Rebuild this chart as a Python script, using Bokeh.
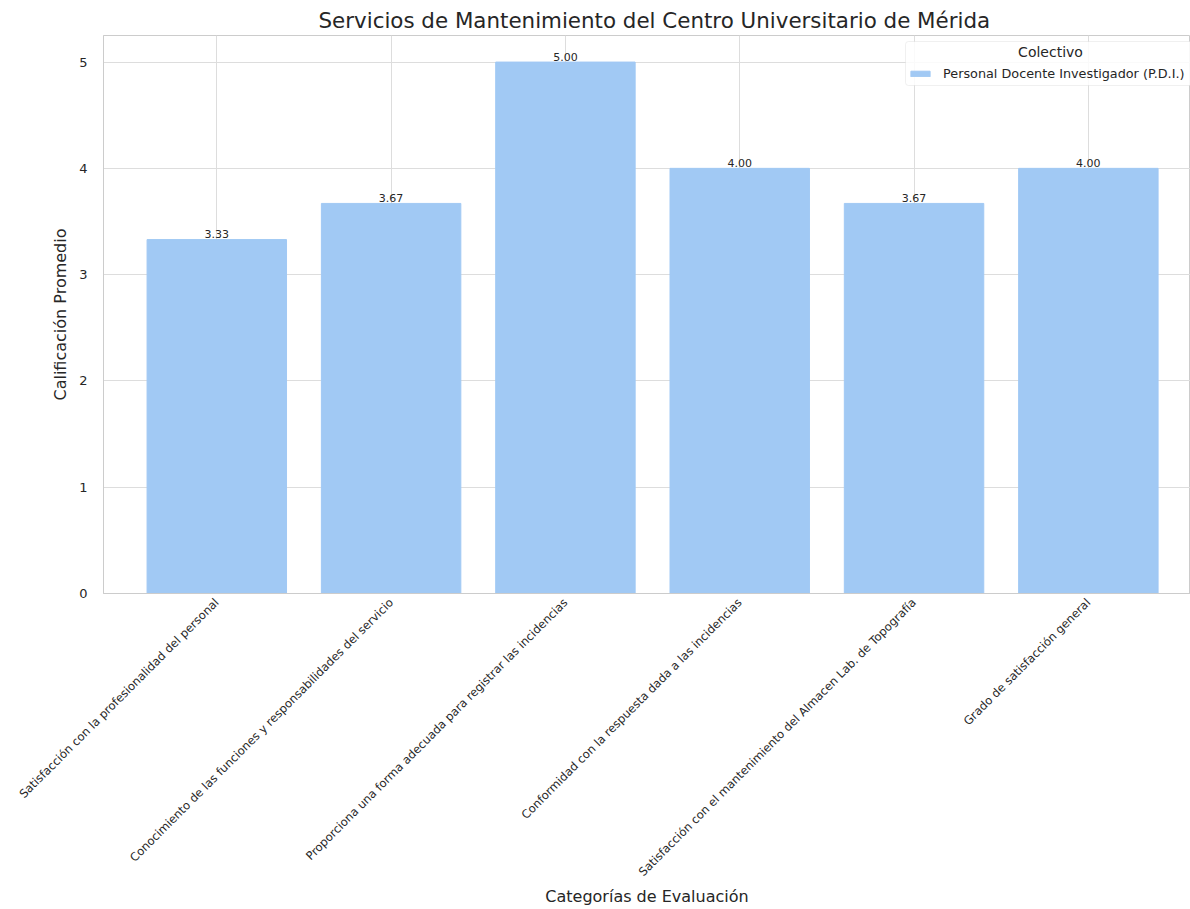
import math
from bokeh.plotting import figure
from bokeh.models import (ColumnDataSource, Range1d, FixedTicker, Legend, LegendItem,
                          LabelSet, Label, Title, BoxAnnotation)
from bokeh.core.properties import value
from bokeh.embed import file_html
from bokeh.resources import INLINE

# ---- data ----
categories = [
    "Satisfacción con la profesionalidad del personal",
    "Conocimiento de las funciones y responsabilidades del servicio",
    "Proporciona una forma adecuada para registrar las incidencias",
    "Conformidad con la respuesta dada a las incidencias",
    "Satisfacción con el mantenimiento del Almacen Lab. de Topografía",
    "Grado de satisfacción general",
]
values = [3.33, 3.67, 5.00, 4.00, 3.67, 4.00]
series_name = "Personal Docente Investigador (P.D.I.)"
legend_title = "Colectivo"
title_text = "Servicios de Mantenimiento del Centro Universitario de Mérida"
x_label = "Categorías de Evaluación"
y_label = "Calificación Promedio"
y_ticks = [0, 1, 2, 3, 4, 5]

FONT = "DejaVu Sans"
TXT = "#262626"
GRID = "#dddddd"
SPINE = "#cccccc"
BAR = "#a1c9f4"

idx = list(range(len(categories)))
source = ColumnDataSource(dict(
    x=idx, top=values, label=[f"{v:.2f}" for v in values], cat=categories))

W, H = 1190, 909
TOP, BOTTOM, LEFT = 35, 316, 103
p = figure(width=W, height=H, output_backend="svg", toolbar_location=None,
           x_range=Range1d(-0.65, 5.586), y_range=Range1d(0, 5.25),
           min_border_left=LEFT, min_border_right=0, min_border_top=TOP,
           min_border_bottom=BOTTOM)
p.title = None
p.add_layout(Title(text=title_text, text_font=FONT, text_font_size="21.4px",
                   text_font_style="normal", text_color=TXT, align="left",
                   standoff=5, offset=215), "above")

r = p.vbar(x="x", top="top", width=0.8, source=source, fill_color=BAR,
           line_color=BAR, line_width=1)

p.add_layout(LabelSet(x="x", y="top", text="label", source=source,
                      text_align="center", text_baseline="alphabetic",
                      y_offset=1.5, text_font=value(FONT),
                      text_font_size=value("11px"), text_color=TXT))

# axes
p.xaxis.ticker = FixedTicker(ticks=idx)
p.xaxis.major_label_overrides = {i: c for i, c in zip(idx, categories)}
p.xaxis.major_label_orientation = math.pi / 4
p.yaxis.ticker = FixedTicker(ticks=y_ticks)
for ax in (p.xaxis[0], p.yaxis[0]):
    ax.axis_line_color = SPINE
    ax.major_tick_line_color = None
    ax.minor_tick_line_color = None
    ax.major_label_text_font = FONT
    ax.major_label_text_color = TXT
    ax.axis_label_text_font = FONT
    ax.axis_label_text_font_style = "normal"
    ax.axis_label_text_color = TXT
    ax.axis_label_text_font_size = "16px"
p.xaxis.major_label_text_font_size = "11.6px"
p.yaxis.major_label_text_font_size = "13px"
p.xaxis.axis_label = x_label
p.yaxis.axis_label = y_label
p.yaxis.major_label_standoff = 10
p.yaxis.axis_label_standoff = 6
p.xaxis.major_label_standoff = 1
p.xaxis.axis_label_standoff = 0

p.xgrid.ticker = FixedTicker(ticks=idx)
p.xgrid.grid_line_color = GRID
p.ygrid.grid_line_color = GRID
p.outline_line_color = SPINE
p.background_fill_color = "white"
p.border_fill_color = "white"

FRAME_H = H - TOP - BOTTOM
BOX_L = 905 - LEFT          # legend box, screen px relative to the frame
BOX_TOP = FRAME_H - 6
BOX_BOT = FRAME_H - 50

# legend frame (drawn as a box so the centred title can sit above it)
p.add_layout(BoxAnnotation(left=BOX_L, right=BOX_L + 300, top=BOX_TOP,
                           bottom=BOX_BOT, left_units="screen",
                           right_units="screen", top_units="screen",
                           bottom_units="screen", fill_color="white",
                           fill_alpha=0.85, line_color=SPINE, line_width=1,
                           border_radius=3, level="annotation"))

legend = Legend(items=[LegendItem(label=series_name, renderers=[r])],
                title=" ", location=(BOX_L + 3, BOX_BOT + 4),
                title_text_font=FONT, title_text_font_size="14px",
                title_text_color=TXT,
                label_text_font=FONT, label_text_font_size="12.8px",
                label_text_color=TXT, glyph_width=24, glyph_height=7,
                border_line_color=None, background_fill_alpha=0,
                padding=4, spacing=2, margin=0, label_standoff=11,
                title_standoff=3)
p.add_layout(legend)

p.add_layout(Label(x=BOX_L + 145, y=FRAME_H - 16, x_units="screen",
                   y_units="screen", text=legend_title, text_align="center",
                   text_baseline="middle", text_font=FONT,
                   text_font_size="14px", text_color=TXT, level="overlay"))

open("out.html", "w").write(file_html(p, INLINE))
